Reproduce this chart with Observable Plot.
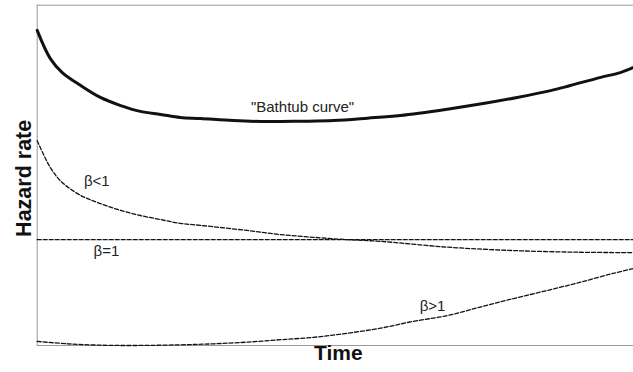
<!DOCTYPE html>
<html><head><meta charset="utf-8">
<script src="https://cdn.jsdelivr.net/npm/d3@7"></script>
<script src="https://cdn.jsdelivr.net/npm/@observablehq/plot@0.6"></script>
<style>body{margin:0;background:#fff} svg{display:block}</style>
</head><body><div id="chart"></div>
<script>
// Time (0–100) and hazard rate (0–100, arbitrary units)
const bathtubTime = [0, 2.2, 4.2, 7.3, 10.6, 14.0, 17.3, 20.7, 24.0, 27.4, 32.9, 38.6, 44.2, 49.7, 55.4, 60.9, 69.3, 74.8, 80.5, 86.1, 89.4, 94.5, 97.8, 100];
const bathtubRate = [92.6, 84.3, 80.2, 76.4, 72.9, 70.5, 68.8, 67.9, 67.0, 66.7, 66.1, 65.8, 65.9, 66.1, 66.8, 67.6, 69.6, 71.1, 72.9, 74.9, 76.4, 78.8, 80.2, 81.7];

const betaLtTime = [0, 2.2, 4.2, 7.3, 10.6, 14.0, 17.3, 20.7, 24.0, 27.4, 35.2, 40.8, 46.3, 52.0, 57.6, 68.8, 79.9, 91.1, 100];
const betaLtRate = [60.2, 52.3, 47.9, 44.1, 41.7, 39.7, 38.2, 37.0, 35.9, 35.3, 33.8, 32.6, 31.8, 31.1, 30.6, 28.9, 27.9, 27.4, 27.3];

const betaEqTime = [0, 100];
const betaEqRate = [31.1, 31.1];

const betaGtTime = [0, 5.1, 10.6, 16.1, 24.0, 29.6, 35.3, 40.8, 46.3, 52.0, 57.6, 63.1, 68.8, 74.3, 79.9, 85.6, 91.1, 96.6, 100];
const betaGtRate = [1.2, 0.5, 0.1, 0.0, 0.2, 0.5, 1.0, 1.7, 2.4, 3.6, 5.1, 7.1, 8.8, 11.3, 13.8, 16.2, 18.6, 21.2, 22.6];

const labelText = ['"Bathtub curve"', "β<1", "β=1", "β>1"];
const labelTime = [44.5, 10.0, 11.6, 66.3];
const labelRate = [69.9, 48.2, 27.6, 11.5];

const toRows = (t, r) => t.map((d, i) => ({time: d, rate: r[i]}));
const bathtub = toRows(bathtubTime, bathtubRate);
const betaLt = toRows(betaLtTime, betaLtRate);
const betaEq = toRows(betaEqTime, betaEqRate);
const betaGt = toRows(betaGtTime, betaGtRate);
const labels = labelText.map((d, i) => ({text: d, time: labelTime[i], rate: labelRate[i]}));

const font = "Liberation Sans, Arial, Helvetica, sans-serif";
const dash = {stroke: "#111", strokeWidth: 1.3, strokeDasharray: "4,2", curve: "catmull-rom"};

const chart = Plot.plot({
  width: 633,
  height: 372,
  marginLeft: 36.7,
  marginRight: 0,
  marginTop: 4.7,
  marginBottom: 27,
  x: {domain: [0, 100], axis: null},
  y: {domain: [0, 100], axis: null},
  style: {fontFamily: font, background: "white"},
  marks: [
    Plot.ruleY([0, 100], {stroke: "#999", strokeWidth: 1}),
    Plot.ruleX([0], {stroke: "#999", strokeWidth: 1}),
    Plot.line(betaEq, {x: "time", y: "rate", ...dash}),
    Plot.line(betaLt, {x: "time", y: "rate", ...dash}),
    Plot.line(betaGt, {x: "time", y: "rate", ...dash}),
    Plot.line(bathtub, {x: "time", y: "rate", stroke: "#111", strokeWidth: 3, curve: "catmull-rom"}),
    Plot.text(labels, {x: "time", y: "rate", text: "text", fontSize: 15, fill: "#222"}),
    Plot.text(["Time"], {frameAnchor: "bottom", dx: 3, dy: 14, fontSize: 21, fontWeight: "bold", fill: "#111"}),
    Plot.text(["Hazard rate"], {frameAnchor: "left", textAnchor: "middle", rotate: -90, dx: -13, dy: 3, fontSize: 21.5, fontWeight: "bold", fill: "#111"})
  ]
});
document.getElementById("chart").append(chart);
</script>
</body></html>
